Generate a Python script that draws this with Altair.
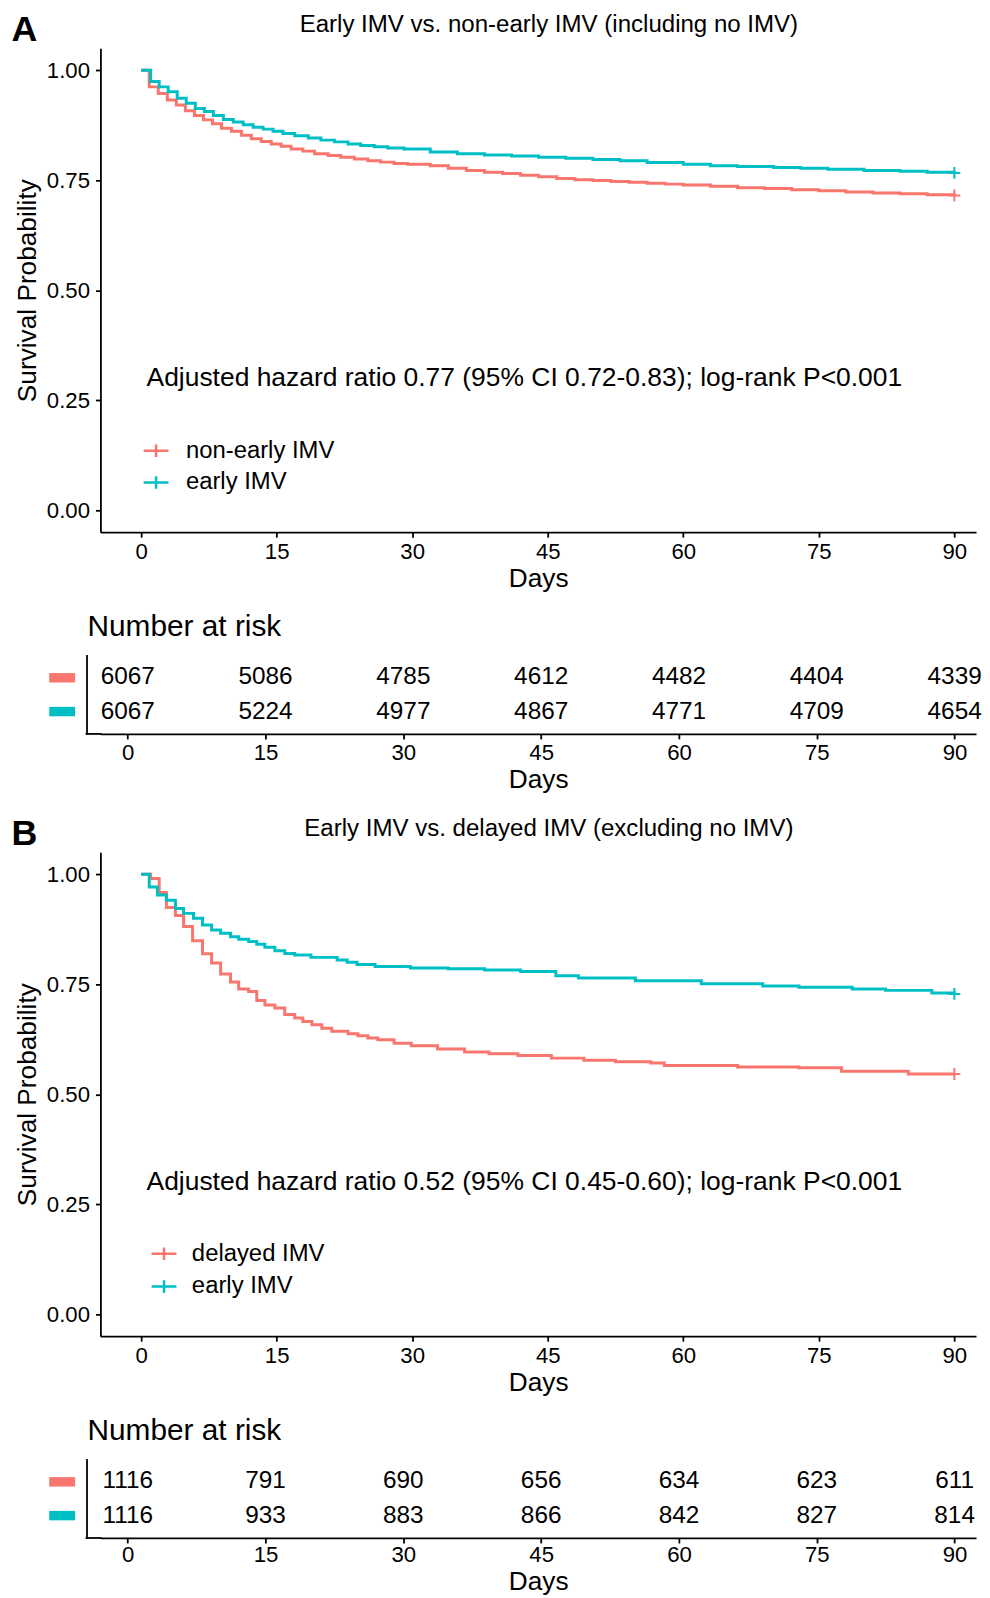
import altair as alt
import pandas as pd

RED = "#F8766D"
TEAL = "#00BFC4"
FONT = "Liberation Sans"
W = 881

# ---------------- Panel A ----------------
a_letter = "A"
a_heading = "Early IMV vs. non-early IMV (including no IMV)"
a_groups = ["non-early IMV", "early IMV"]
a_note = "Adjusted hazard ratio 0.77 (95% CI 0.72-0.83); log-rank P<0.001"
a_red_t = [0, 0.9, 1.9, 2.9, 3.9, 4.9, 5.9, 6.9, 7.9, 8.9, 10.0, 11.1, 12.2, 13.3, 14.4, 15.5, 16.6,
           17.9, 19.2, 20.7, 22.1, 23.6, 25.1, 26.5, 28.0, 29.5, 32, 34, 36, 38, 40, 42, 44, 46, 48,
           50, 52, 54, 56, 58, 60, 63, 66, 69, 72, 75, 78, 81, 84, 87, 90]
a_red_s = [1.0, 0.962, 0.947, 0.932, 0.921, 0.908, 0.897, 0.887, 0.878, 0.868, 0.861, 0.852, 0.844,
           0.838, 0.832, 0.827, 0.821, 0.816, 0.810, 0.806, 0.802, 0.798, 0.794, 0.791, 0.788, 0.786,
           0.783, 0.777, 0.772, 0.768, 0.765, 0.761, 0.758, 0.754, 0.751, 0.749, 0.747, 0.745, 0.743,
           0.741, 0.739, 0.736, 0.733, 0.731, 0.728, 0.726, 0.723, 0.721, 0.719, 0.717, 0.715]
a_teal_t = [0, 1.06, 2.0, 3.0, 4.0, 5.0, 6.0, 7.0, 8.0, 9.1, 10.2, 11.3, 12.4, 13.5, 14.6, 15.7, 17.0,
            18.5, 19.9, 21.4, 22.9, 24.3, 25.8, 27.3, 29.1, 32, 35, 38, 41, 44, 47, 50, 53, 56, 60,
            63, 66, 70, 73, 76, 80, 84, 87, 90]
a_teal_s = [1.0, 0.974, 0.962, 0.951, 0.936, 0.925, 0.913, 0.906, 0.897, 0.888, 0.882, 0.876, 0.870,
            0.866, 0.861, 0.856, 0.851, 0.846, 0.841, 0.837, 0.832, 0.829, 0.826, 0.823, 0.821, 0.814,
            0.810, 0.807, 0.805, 0.802, 0.800, 0.797, 0.794, 0.790, 0.786, 0.783, 0.781, 0.779, 0.777,
            0.775, 0.772, 0.770, 0.768, 0.7665]
risk_times = [0, 15, 30, 45, 60, 75, 90]
a_risk_red = [6067, 5086, 4785, 4612, 4482, 4404, 4339]
a_risk_teal = [6067, 5224, 4977, 4867, 4771, 4709, 4654]

# ---------------- Panel B ----------------
b_letter = "B"
b_heading = "Early IMV vs. delayed IMV (excluding no IMV)"
b_groups = ["delayed IMV", "early IMV"]
b_note = "Adjusted hazard ratio 0.52 (95% CI 0.45-0.60); log-rank P<0.001"
b_red_t = [0, 1.06, 2.0, 2.8, 3.8, 4.7, 5.7, 6.8, 7.8, 8.8, 9.9, 10.8, 11.9, 12.8, 13.7, 14.8, 15.9,
           17.0, 17.9, 18.9, 20.0, 21.1, 22.9, 24.0, 25.1, 26.2, 28.0, 29.9, 32.8, 35.8, 38.5, 41.7,
           45.4, 49.0, 52.5, 56.4, 57.9, 66.0, 72.8, 77.5, 84.9, 90]
b_red_s = [1.0, 0.990, 0.9585, 0.9245, 0.906, 0.881, 0.849, 0.819, 0.798, 0.773, 0.755, 0.739, 0.7335,
           0.713, 0.703, 0.696, 0.681, 0.673, 0.6655, 0.658, 0.650, 0.643, 0.6375, 0.633, 0.628, 0.624,
           0.616, 0.610, 0.603, 0.596, 0.592, 0.588, 0.582, 0.577, 0.574, 0.571, 0.565, 0.562, 0.560,
           0.552, 0.546, 0.546]
b_teal_t = [0, 0.9, 1.8, 2.8, 3.8, 4.7, 5.8, 6.8, 7.8, 8.8, 9.9, 10.8, 11.9, 12.8, 13.7, 14.8, 15.9,
            17.0, 18.8, 21.7, 22.8, 23.9, 25.9, 29.8, 34, 38, 42, 45.9, 48.4, 54.7, 62, 68.8, 72.8,
            78.7, 82.4, 87.5, 90]
b_teal_s = [1.0, 0.971, 0.9525, 0.941, 0.922, 0.911, 0.900, 0.8845, 0.873, 0.866, 0.858, 0.852, 0.847,
            0.841, 0.834, 0.826, 0.820, 0.8165, 0.811, 0.805, 0.800, 0.795, 0.790, 0.787, 0.785, 0.7825,
            0.779, 0.769, 0.764, 0.758, 0.751, 0.746, 0.743, 0.739, 0.736, 0.730, 0.728]
b_risk_red = [1116, 791, 690, 656, 634, 623, 611]
b_risk_teal = [1116, 933, 883, 866, 842, 827, 814]

X_TICKS = [0, 15, 30, 45, 60, 75, 90]
Y_TICKS = [0, 0.25, 0.5, 0.75, 1.0]
RISK_H = 80


def km_panel(letter, heading, groups, red_t, red_s, teal_t, teal_s, note, leg_x, leg_y, leg_pad, leg_off):
    rows = [{"group": groups[0], "t": t, "s": s} for t, s in zip(red_t, red_s)]
    rows += [{"group": groups[1], "t": t, "s": s} for t, s in zip(teal_t, teal_s)]
    df = pd.DataFrame(rows)
    ends = pd.DataFrame([
        {"group": groups[0], "t": red_t[-1], "s": red_s[-1]},
        {"group": groups[1], "t": teal_t[-1], "s": teal_s[-1]},
    ])
    notes = pd.DataFrame([{"t": 0.6, "s": 0.3, "label": note}])

    xs = alt.Scale(domain=[-4.5, 92.4], nice=False, zero=False)
    ys = alt.Scale(domain=[-0.05, 1.05], nice=False, zero=False)
    cs = alt.Scale(domain=groups, range=[RED, TEAL])

    lines = alt.Chart(df).mark_line(interpolate="step-after", strokeWidth=3).encode(
        x=alt.X("t:Q", scale=xs, axis=alt.Axis(orient="bottom", values=X_TICKS, title="Days",
                                                labelPadding=3, titlePadding=3)),
        y=alt.Y("s:Q", scale=ys, axis=alt.Axis(orient="left", values=Y_TICKS, format=".2f",
                                                title="Survival Probability", labelPadding=6,
                                                titlePadding=5)),
        color=alt.Color("group:N", scale=cs, legend=alt.Legend(
            orient="none", legendX=leg_x, legendY=leg_y, direction="vertical", title=None,
            symbolType="M-1,0H1M0,-0.5V0.5", symbolSize=625, symbolStrokeWidth=2.5,
            symbolFillColor="transparent", labelFontSize=24, labelFont=FONT, labelColor="black",
            labelOffset=leg_off, rowPadding=leg_pad, padding=0)),
    )
    cens = alt.Chart(ends).mark_point(shape="M-1,0H1M0,-1V1", filled=False, size=144,
                                      strokeWidth=2, opacity=1).encode(
        x=alt.X("t:Q", scale=xs, axis=alt.Axis(
            orient="top", title=heading, labels=False, ticks=False, domain=False,
            titleX=450.7, titleY=-36, titleAlign="center", titleBaseline="top",
            titleFontSize=24.2, titleFontWeight="normal", titleFont=FONT, titleColor="black")),
        y=alt.Y("s:Q", scale=ys, axis=None),
        color=alt.Color("group:N", scale=cs, legend=None),
    )
    text = alt.Chart(notes).mark_text(align="left", baseline="middle", fontSize=26.6, font=FONT,
                                      color="black").encode(
        x=alt.X("t:Q", scale=xs, axis=None),
        y=alt.Y("s:Q", scale=ys, axis=alt.Axis(
            orient="right", title=letter, labels=False, ticks=False, domain=False,
            titleAngle=0, titleX=-(W + 90), titleY=-36, titleAlign="left",
            titleBaseline="top", titleFontSize=36, titleFontWeight="bold",
            titleFont=FONT, titleColor="black")),
        text="label:N",
    )
    return alt.layer(lines, cens, text).properties(width=W, height=487)


def risk_panel(groups, red_n, teal_n, label_pad, days_pad):
    rows = [{"group": groups[0], "t": t, "n": str(n)} for t, n in zip(risk_times, red_n)]
    rows += [{"group": groups[1], "t": t, "n": str(n)} for t, n in zip(risk_times, teal_n)]
    df = pd.DataFrame(rows)
    xs = alt.Scale(domain=[-2.97, 92.33], nice=False, zero=False)
    ys = alt.Scale(type="point", domain=groups, padding=0.643)
    bar_color = {"condition": {"test": f"datum.value === '{groups[0]}'", "value": RED},
                 "value": TEAL}
    nums = alt.Chart(df).mark_text(fontSize=24.5, font=FONT, color="black").encode(
        x=alt.X("t:Q", scale=xs,
                axis=alt.Axis(orient="bottom", values=X_TICKS, title="Days",
                              labelPadding=label_pad, titlePadding=days_pad)),
        y=alt.Y("group:N", scale=ys,
                axis=alt.Axis(orient="left", offset=14, ticks=False, labels=False, title=None)),
        text="n:N",
    )
    keys = alt.Chart(df).mark_point(size=0, opacity=0).encode(
        y=alt.Y("group:N", scale=ys,
                axis=alt.Axis(orient="right", offset=-(W + 52), domain=False, ticks=True,
                              tickSize=26, tickWidth=9.5, tickCap="butt", tickColor=bar_color,
                              labels=False, title=None)),
    )
    # short piece of axis line joining the offset y-axis line to the x-axis line
    corner = alt.Chart(pd.DataFrame({"k": [0]})).mark_rule(color="black", strokeWidth=1.8).encode(
        x=alt.value(-14.9), x2=alt.value(1), y=alt.value(RISK_H)
    )
    return alt.layer(nums, keys, corner, title=alt.TitleParams(
        "Number at risk", anchor="start", frame="group", dx=-13, fontSize=30, font=FONT,
        fontWeight="normal", baseline="alphabetic", offset=-11.6, color="black")
    ).properties(width=W, height=RISK_H)


kmA = km_panel(a_letter, a_heading, a_groups, a_red_t, a_red_s, a_teal_t, a_teal_s, a_note,
               42, 391, 6, 16)
kmB = km_panel(b_letter, b_heading, b_groups, b_red_t, b_red_s, b_teal_t, b_teal_s, b_note,
               50, 390, 7, 14)
riskA = risk_panel(a_groups, a_risk_red, a_risk_teal, 3, 3)
riskB = risk_panel(b_groups, b_risk_red, b_risk_teal, 0.5, 3)

panelA = alt.vconcat(kmA, riskA, spacing=20).resolve_scale(color="independent")
panelB = alt.vconcat(kmB, riskB, spacing=20).resolve_scale(color="independent")

chart = alt.vconcat(panelA, panelB, spacing=22).resolve_scale(color="independent").properties(
    padding={"left": 3, "top": -1.5, "right": 0, "bottom": 0}
).configure(font=FONT).configure_view(stroke=None).configure_axis(
    grid=False, domainColor="black", domainWidth=1.8, tickColor="black", tickWidth=1.8,
    tickSize=5, labelColor="black", titleColor="black", labelFont=FONT, titleFont=FONT,
    labelFontSize=22.3, titleFontSize=26.4, titleFontWeight="normal"
)

chart.save("out.html", embed_options={"renderer": "svg", "actions": False})
